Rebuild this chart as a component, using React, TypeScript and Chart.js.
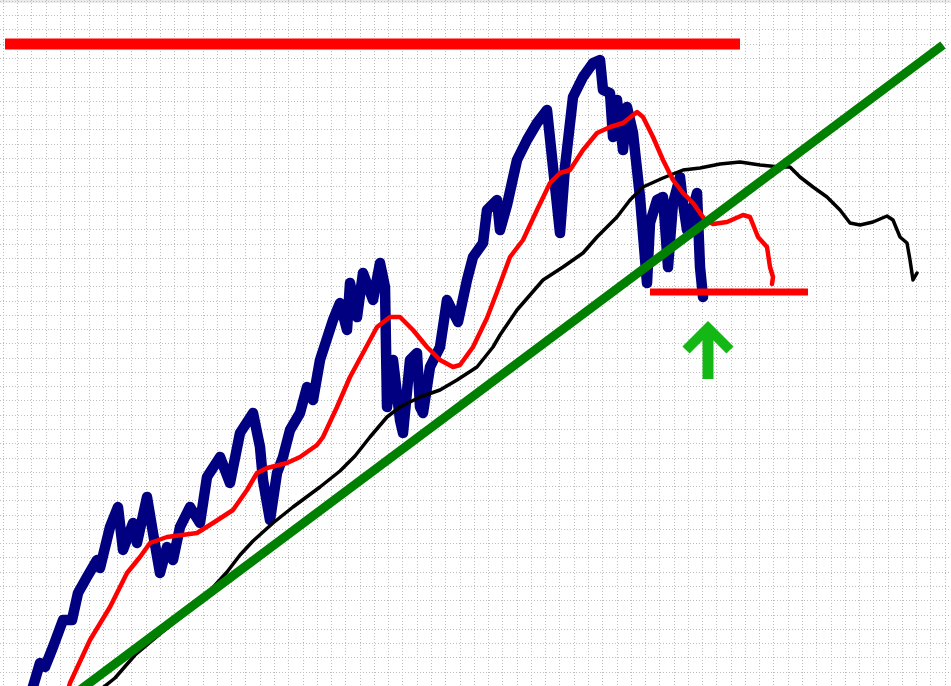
import React, { useEffect, useRef } from "react";
import { Chart, registerables } from "chart.js";

Chart.register(...registerables);

// Price series (navy): day index and level
const priceDays = [32, 40, 45, 53, 63, 72, 78, 87, 97, 100, 110, 118, 123, 133, 137, 147, 153, 160, 167, 173, 180, 190, 200, 207, 220, 230, 240, 253, 260, 263, 270, 277, 283, 290, 300, 307, 313, 320, 333, 340, 347, 350, 357, 363, 373, 380, 385, 387, 393, 400, 403, 410, 417, 420, 423, 430, 440, 447, 458, 467, 473, 483, 487, 497, 500, 507, 517, 527, 537, 547, 553, 560, 565, 573, 583, 593, 600, 603, 610, 613, 617, 623, 627, 633, 640, 647, 650, 657, 663, 668, 673, 680, 683, 687, 697, 700, 703];
const priceLevels = [-4, 23, 19, 39, 66, 66, 93, 109, 126, 118, 159, 179, 136, 163, 143, 189, 153, 113, 139, 126, 159, 179, 163, 209, 229, 203, 253, 273, 239, 206, 166, 213, 229, 256, 273, 299, 286, 326, 366, 383, 356, 403, 369, 413, 386, 423, 399, 279, 326, 266, 253, 326, 333, 279, 273, 319, 339, 386, 364, 406, 429, 443, 476, 486, 456, 481, 526, 546, 563, 576, 519, 453, 519, 589, 609, 623, 626, 596, 593, 549, 586, 536, 579, 553, 489, 403, 463, 486, 489, 419, 483, 509, 483, 456, 493, 419, 389];

// Short moving average (red)
const fastDays = [68, 70, 90, 110, 127, 140, 150, 167, 197, 213, 233, 247, 257, 267, 287, 300, 317, 323, 337, 350, 363, 377, 390, 400, 413, 427, 440, 453, 460, 473, 487, 497, 510, 523, 537, 550, 560, 570, 583, 597, 610, 623, 637, 643, 653, 663, 673, 683, 693, 705, 713, 727, 743, 750, 758, 767, 770, 773, 772];
const fastLevels = [-4, 3, 46, 79, 113, 129, 143, 149, 153, 163, 176, 196, 213, 218, 223, 229, 241, 249, 279, 309, 333, 359, 369, 369, 356, 339, 326, 319, 321, 339, 368, 394, 429, 446, 476, 503, 513, 516, 536, 553, 559, 563, 574, 569, 549, 526, 506, 493, 483, 466, 462, 464, 471, 469, 449, 439, 419, 409, 402];

// Long moving average (black)
const slowDays = [100, 115, 135, 160, 185, 207, 227, 240, 253, 273, 293, 320, 340, 355, 370, 387, 400, 420, 440, 457, 477, 493, 500, 517, 543, 563, 583, 597, 617, 630, 643, 663, 683, 700, 720, 740, 760, 780, 790, 800, 813, 827, 840, 850, 860, 873, 887, 893, 900, 907, 910, 913, 917];
const slowLevels = [-4, 8, 31, 52, 72, 92, 114, 131, 145, 163, 179, 199, 215, 230, 249, 269, 279, 289, 296, 306, 319, 339, 351, 376, 406, 419, 433, 449, 469, 486, 499, 508, 516, 518, 522, 524, 521, 519, 519, 509, 499, 489, 476, 463, 461, 464, 470, 466, 449, 443, 426, 406, 413];

// Trend line (green)
const trendDays = [80, 943];
const trendLevels = [-4, 641];

// Resistance (top red) and support (lower red)
const resistanceDays = [5, 740];
const resistanceLevels = [642, 642];
const supportDays = [650, 808];
const supportLevels = [394, 394];

// Up arrow (green)
const arrowShaftDays = [708, 708];
const arrowShaftLevels = [307, 352];
const arrowHeadDays = [686, 708, 730];
const arrowHeadLevels = [336, 358, 336];

// Grid positions
const gridXStart = 3.4;
const gridYStart = 684.57;
const gridStep = 14.27;

const pts = (xs: number[], ys: number[]) => xs.map((x, i) => ({ x, y: ys[i] }));

export default function App() {
  const ref = useRef<HTMLCanvasElement | null>(null);

  useEffect(() => {
    if (!ref.current) return;
    const gridX: number[] = [];
    for (let v = gridXStart; v <= 951; v += gridStep) gridX.push(v);
    const gridY: number[] = [];
    for (let v = gridYStart; v >= 0; v -= gridStep) gridY.push(v);

    const line = (data: any, color: string, width: number, extra: any = {}) => ({
      data,
      borderColor: color,
      backgroundColor: color,
      borderWidth: width,
      pointRadius: 0,
      tension: 0,
      fill: false,
      borderJoinStyle: "round",
      borderCapStyle: "round",
      ...extra,
    });

    const bg = {
      id: "bg",
      beforeDraw(chart: any) {
        const c = chart.ctx;
        c.save();
        c.fillStyle = "#ffffff";
        c.fillRect(0, 0, chart.width, chart.height);
        c.fillStyle = "#ebebeb";
        c.fillRect(0, 0, chart.width, 3);
        c.restore();
      },
    };

    const chart = new Chart(ref.current, {
      type: "line",
      data: {
        datasets: [
          line(pts(arrowHeadDays, arrowHeadLevels), "#14b814", 10, { borderJoinStyle: "miter", borderCapStyle: "butt" }),
          line(pts(arrowShaftDays, arrowShaftLevels), "#14b814", 11, { borderCapStyle: "butt" }),
          line(pts(trendDays, trendLevels), "#008000", 9, { borderCapStyle: "butt" }),
          line(pts(supportDays, supportLevels), "#ff0000", 7, { borderCapStyle: "butt" }),
          line(pts(resistanceDays, resistanceLevels), "#ff0000", 11, { borderCapStyle: "butt" }),
          line(pts(fastDays, fastLevels), "#ff0000", 4.5),
          line(pts(slowDays, slowLevels), "#000000", 3.5),
          line(pts(priceDays, priceLevels), "#000080", 10.5),
        ],
      },
      options: {
        animation: false,
        responsive: false,
        devicePixelRatio: 1,
        layout: { padding: 0 },
        plugins: { legend: { display: false }, tooltip: { enabled: false } },
        scales: {
          x: {
            type: "linear",
            min: 0,
            max: 951,
            afterBuildTicks: (s: any) => {
              s.ticks = gridX.map((value) => ({ value }));
            },
            ticks: { display: false },
            grid: { color: "#bdbdbd", lineWidth: 1, drawTicks: false },
            border: { display: false, dash: [1, 2] },
          },
          y: {
            type: "linear",
            min: 0,
            max: 686,
            afterBuildTicks: (s: any) => {
              s.ticks = gridY.map((value) => ({ value }));
            },
            ticks: { display: false },
            grid: { color: "#bdbdbd", lineWidth: 1, drawTicks: false },
            border: { display: false, dash: [1, 2] },
          },
        },
      },
      plugins: [bg],
    } as any);
    return () => chart.destroy();
  }, []);

  return (
    <div style={{ position: "absolute", left: 0, top: 0, width: 951, height: 686 }}>
      <canvas ref={ref} width={951} height={686} style={{ display: "block", width: 951, height: 686 }} />
    </div>
  );
}
